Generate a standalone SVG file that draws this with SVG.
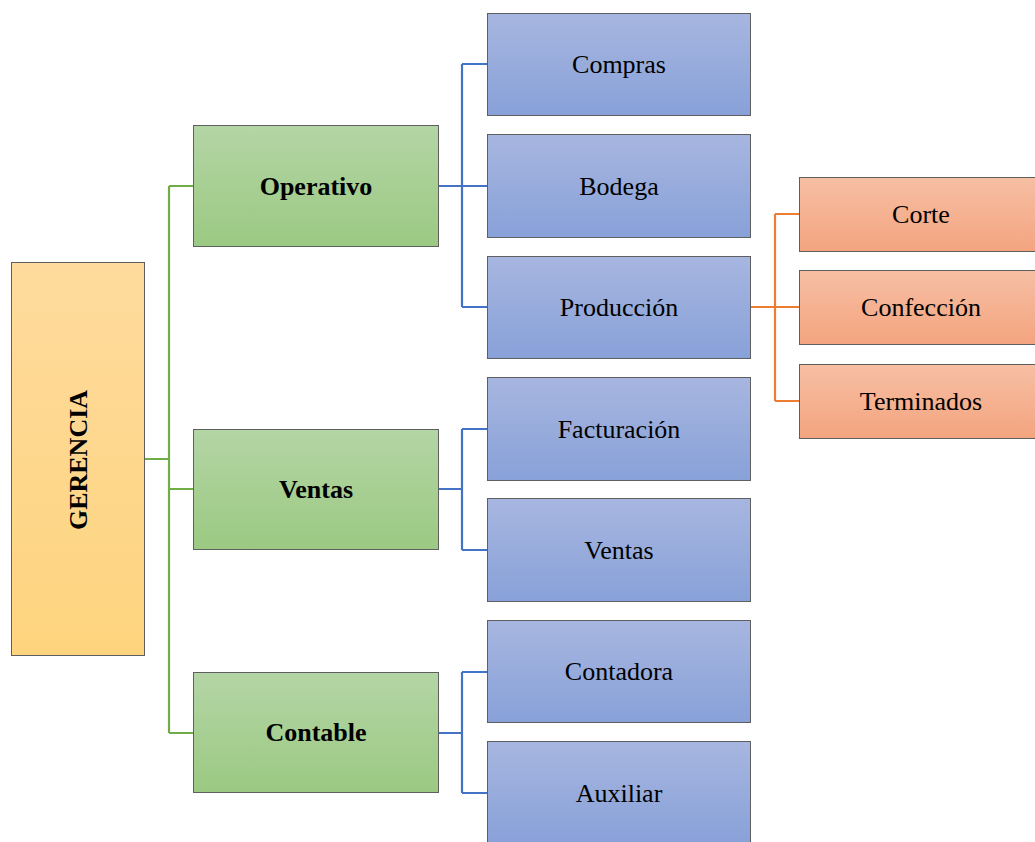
<svg xmlns="http://www.w3.org/2000/svg" width="1035" height="842" viewBox="0 0 1035 842">
<defs>
<linearGradient id="gy" x1="0" y1="0" x2="0" y2="1"><stop offset="0" stop-color="#fedb9d"/><stop offset="1" stop-color="#fed47e"/></linearGradient>
<linearGradient id="gg" x1="0" y1="0" x2="0" y2="1"><stop offset="0" stop-color="#b4d5a5"/><stop offset="1" stop-color="#9bc982"/></linearGradient>
<linearGradient id="gb" x1="0" y1="0" x2="0" y2="1"><stop offset="0" stop-color="#a7b6e0"/><stop offset="1" stop-color="#88a1d8"/></linearGradient>
<linearGradient id="go" x1="0" y1="0" x2="0" y2="1"><stop offset="0" stop-color="#f6bfa3"/><stop offset="1" stop-color="#f4a47f"/></linearGradient>
</defs>
<style>
rect{stroke:#5f5f5f;stroke-width:1}
.y{fill:url(#gy)}.g{fill:url(#gg)}.b{fill:url(#gb)}.o{fill:url(#go)}
text{font-family:'Liberation Serif','Times New Roman',serif;font-size:26px;fill:#000;text-anchor:middle;dominant-baseline:central}
.bold{font-weight:bold}
.c{fill:none;stroke-width:2.2}
.cg{stroke:#70ad47}.cb{stroke:#4472c4}.co{stroke:#ed7d31}
</style>
<g id="connectors">
<path class="c cg" d="M144 459H169M169 186V733M169 186H193M169 489H193M169 733H193"/>
<path class="c cb" d="M438 186H462M462 64V307M462 64H487M462 186H487M462 307H487"/>
<path class="c cb" d="M438 489H462M462 429V550M462 429H487M462 550H487"/>
<path class="c cb" d="M438 733H462M462 672V793M462 672H487M462 793H487"/>
<path class="c co" d="M750 307H775M775 214V401M775 214H799M775 307H799M775 401H799"/>
</g>
<g id="gerencia"><rect class="y" x="11.5" y="262.5" width="133" height="393"/><text class="bold" font-family="Liberation Serif" transform="translate(78 460) rotate(-90)">GERENCIA</text></g>
<g id="operativo"><rect class="g" x="193.5" y="125.5" width="245" height="121"/><text class="bold" font-family="Liberation Serif" x="316" y="186">Operativo</text></g>
<g id="ventas-g"><rect class="g" x="193.5" y="429.5" width="245" height="120"/><text class="bold" font-family="Liberation Serif" x="316" y="489">Ventas</text></g>
<g id="contable"><rect class="g" x="193.5" y="672.5" width="245" height="120"/><text class="bold" font-family="Liberation Serif" x="316" y="732">Contable</text></g>
<g id="compras"><rect class="b" x="487.5" y="13.5" width="263" height="102"/><text font-family="Liberation Serif" x="619" y="64">Compras</text></g>
<g id="bodega"><rect class="b" x="487.5" y="134.5" width="263" height="103"/><text font-family="Liberation Serif" x="619" y="186">Bodega</text></g>
<g id="produccion"><rect class="b" x="487.5" y="256.5" width="263" height="102"/><text font-family="Liberation Serif" x="619" y="307">Producción</text></g>
<g id="facturacion"><rect class="b" x="487.5" y="377.5" width="263" height="103"/><text font-family="Liberation Serif" x="619" y="429">Facturación</text></g>
<g id="ventas-b"><rect class="b" x="487.5" y="498.5" width="263" height="103"/><text font-family="Liberation Serif" x="619" y="550">Ventas</text></g>
<g id="contadora"><rect class="b" x="487.5" y="620.5" width="263" height="102"/><text font-family="Liberation Serif" x="619" y="671">Contadora</text></g>
<g id="auxiliar"><rect class="b" x="487.5" y="741.5" width="263" height="103"/><text font-family="Liberation Serif" x="619" y="793">Auxiliar</text></g>
<g id="corte"><rect class="o" x="799.5" y="177.5" width="237" height="74"/><text font-family="Liberation Serif" x="921" y="214">Corte</text></g>
<g id="confeccion"><rect class="o" x="799.5" y="270.5" width="237" height="74"/><text font-family="Liberation Serif" x="921" y="307">Confección</text></g>
<g id="terminados"><rect class="o" x="799.5" y="364.5" width="237" height="74"/><text font-family="Liberation Serif" x="921" y="401">Terminados</text></g>
</svg>
